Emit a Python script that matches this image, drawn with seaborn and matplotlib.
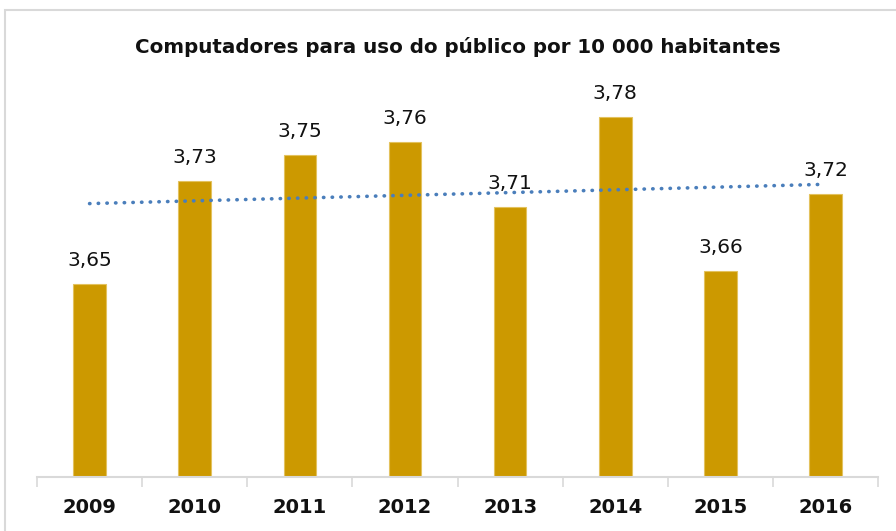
import matplotlib
matplotlib.use('Agg')
import matplotlib.pyplot as plt
import matplotlib.patches as mpatches
import numpy as np
import seaborn as sns

# Data
years = ['2009', '2010', '2011', '2012', '2013', '2014', '2015', '2016']
values = [3.65, 3.73, 3.75, 3.76, 3.71, 3.78, 3.66, 3.72]
title = 'Computadores para uso do público por 10 000 habitantes'

sns.set_style('white')
plt.rcParams['font.family'] = ['DejaVu Sans']

fig = plt.figure(figsize=(8.96, 5.31), dpi=100)
ax = fig.add_axes([0.0413, 0.1017, 0.9387, 0.7269])

sns.barplot(x=years, y=values, color='#CC9900', width=0.31, saturation=1,
            edgecolor='#E3C25E', linewidth=0.8, ax=ax)

# linear trendline
pos = np.arange(len(values))
coef = np.polyfit(pos, values, 1)
ax.plot(pos, np.polyval(coef, pos), color='#4A7EBB', linewidth=2.6,
        linestyle=(0, (0.1, 2.3)), dash_capstyle='round')

# data labels
for i, v in enumerate(values):
    ax.text(i, v + 0.011, f'{v:.2f}'.replace('.', ','), ha='center', va='bottom',
            fontsize=14.5, color='#111111', clip_on=False)

ax.set_ylim(3.5, 3.8)
ax.set_xlim(-0.5, len(years) - 0.5)
ax.set_yticks([])
ax.set_xticks(np.arange(-0.5, len(years), 1.0))
ax.set_xticklabels([])
ax.set_xticks(pos, minor=True)
ax.set_xticklabels(years, minor=True, fontsize=14, fontweight='bold', color='#111111')
ax.tick_params(axis='x', which='major', bottom=True, length=7, width=1.2,
               color='#D9D9D9', direction='out')
ax.tick_params(axis='x', which='minor', bottom=True, length=0, pad=15)
for s in ['top', 'right', 'left']:
    ax.spines[s].set_visible(False)
ax.spines['bottom'].set_color('#D9D9D9')
ax.spines['bottom'].set_linewidth(1.5)
ax.set_xlabel('')

fig.text(457.5 / 896, 1 - 47 / 531, title, ha='center', va='center',
         fontsize=14.3, fontweight='bold', color='#111111')

# chart frame
frame = mpatches.Rectangle((5 / 896, -0.05), 1.0, 1 - 10 / 531 + 0.05,
                           transform=fig.transFigure, fill=False,
                           edgecolor='#D9D9D9', linewidth=1.5)
fig.patches.append(frame)

fig.savefig('out.png', dpi=100)
